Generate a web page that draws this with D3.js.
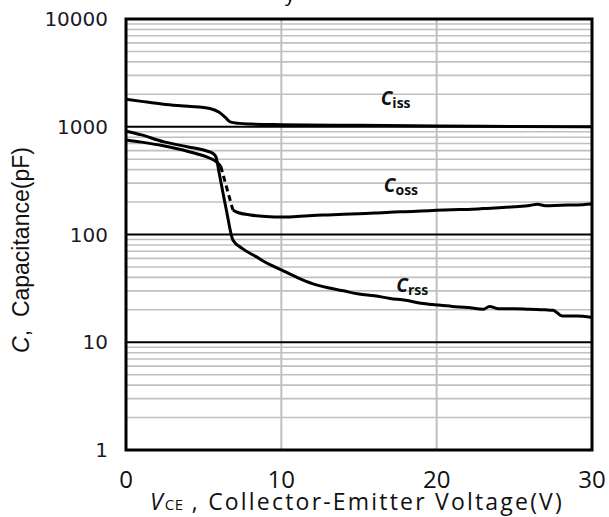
<!DOCTYPE html>
<html>
<head>
<meta charset="utf-8">
<script src="https://cdn.jsdelivr.net/npm/d3@7"></script>
<style>
  body { margin: 0; background: #fff; }
  svg { display: block; }
</style>
</head>
<body>
<div id="chart"></div>
<script>
// axis ticks
const xTicks = [0, 10, 20, 30];
const yTicks = [1, 10, 100, 1000, 10000];

// Ciss
const cissV = [0, 1, 2.4, 4, 5.4, 6.0, 6.4, 6.7, 7.3, 8, 10, 15, 20, 25, 30];
const cissC = [1800, 1720, 1620, 1550, 1480, 1360, 1220, 1110, 1075, 1060, 1045, 1030, 1015, 1005, 1000];

// Coss: low-voltage part, dashed drop, high-voltage part
const cossLowV = [0, 1, 2.4, 4, 5.4, 5.8, 6.1];
const cossLowC = [755, 720, 665, 590, 510, 475, 430];
const cossDropV = [6.1, 6.88];
const cossDropC = [430, 169];
const cossHighV = [6.88, 7.2, 8, 9, 10, 11, 12, 13, 14, 15, 16, 17, 18, 19, 20, 21, 22, 23, 24, 25, 26, 26.5, 27, 28, 29, 30];
const cossHighC = [169, 160, 152, 147, 145, 147, 150, 152, 154, 156, 158, 161, 163, 165, 168, 170, 171, 174, 177, 181, 186, 191, 185, 187, 188, 192];

// Crss
const crssV = [0, 1, 2.4, 4, 5.2, 5.6, 5.8, 6.0, 6.46, 6.88, 7.5, 8.4, 9, 10, 11, 12, 13, 14, 15, 16, 17, 18, 19, 20, 21, 22, 23, 23.4, 24, 25, 26, 27, 27.5, 28.1, 29, 30];
const crssC = [910, 840, 727, 650, 596, 565, 520, 370, 169, 89, 74, 62, 55, 47, 40, 35, 32, 30, 28, 27, 25.5, 24.5, 23, 22.2, 21.5, 21, 20.2, 21.5, 20.5, 20.5, 20.2, 20, 19.8, 17.5, 17.5, 17];

const svgWidth = 609, svgHeight = 517;
const margin = { top: 19, right: 17, bottom: 67, left: 126 };
const width = svgWidth - margin.left - margin.right;
const height = svgHeight - margin.top - margin.bottom;

const svg = d3.select('#chart').append('svg')
  .attr('width', svgWidth)
  .attr('height', svgHeight);

const g = svg.append('g')
  .attr('transform', `translate(${margin.left},${margin.top})`);

const x = d3.scaleLinear().domain([0, 30]).range([0, width]);
const y = d3.scaleLog().domain([1, 10000]).range([height, 0]);

// minor horizontal grid (2..9 in each decade)
const minor = [];
for (let d = 1; d < 10000; d *= 10) {
  for (let k = 2; k <= 9; k++) minor.push(d * k);
}
g.selectAll('.minor').data(minor).enter().append('line')
  .attr('x1', 0).attr('x2', width)
  .attr('y1', d => y(d)).attr('y2', d => y(d))
  .attr('stroke', '#c0c0c0').attr('stroke-width', 1.6);

// vertical grid
g.selectAll('.vgrid').data(xTicks.slice(1, -1)).enter().append('line')
  .attr('x1', d => x(d)).attr('x2', d => x(d))
  .attr('y1', 0).attr('y2', height)
  .attr('stroke', '#c0c0c0').attr('stroke-width', 2);

// decade lines
g.selectAll('.major').data(yTicks.slice(1, -1)).enter().append('line')
  .attr('x1', 0).attr('x2', width)
  .attr('y1', d => y(d)).attr('y2', d => y(d))
  .attr('stroke', '#000').attr('stroke-width', 2);

const line = d3.line()
  .x(d => x(d[0]))
  .y(d => y(d[1]))
  .curve(d3.curveMonotoneX);

function zip(a, b) { return a.map((v, i) => [v, b[i]]); }

const curves = [
  { data: zip(cissV, cissC), dash: null },
  { data: zip(cossLowV, cossLowC), dash: null },
  { data: zip(cossDropV, cossDropC), dash: '6,4' },
  { data: zip(cossHighV, cossHighC), dash: null },
  { data: zip(crssV, crssC), dash: null }
];

curves.forEach(c => {
  g.append('path')
    .datum(c.data)
    .attr('fill', 'none')
    .attr('stroke', '#000')
    .attr('stroke-width', 3)
    .attr('stroke-linejoin', 'round')
    .attr('stroke-dasharray', c.dash)
    .attr('d', line);
});

// frame
g.append('rect')
  .attr('width', width).attr('height', height)
  .attr('fill', 'none').attr('stroke', '#000').attr('stroke-width', 3);

// y axis tick labels
g.selectAll('.ylab').data(yTicks).enter().append('text')
  .attr('x', -18)
  .attr('y', d => y(d))
  .attr('dy', '0.36em')
  .attr('text-anchor', 'end')
  .attr('font-family', 'DejaVu Sans, Verdana, sans-serif')
  .attr('font-size', 20)
  .attr('fill', '#1a1a2a')
  .text(d => d);

// x axis tick labels
g.selectAll('.xlab').data(xTicks).enter().append('text')
  .attr('x', d => x(d))
  .attr('y', height + 38)
  .attr('text-anchor', 'middle')
  .attr('font-family', 'Open Sans, sans-serif')
  .attr('font-size', 24)
  .attr('fill', '#111')
  .text(d => d);

// x title
const xt = svg.append('text')
  .attr('x', 357)
  .attr('y', 510)
  .attr('text-anchor', 'middle')
  .attr('font-family', 'Open Sans, sans-serif')
  .attr('font-size', 23)
  .attr('letter-spacing', 2.2)
  .attr('fill', '#111');
xt.append('tspan').attr('font-style', 'italic').text('V');
xt.append('tspan').attr('font-size', 15).attr('letter-spacing', 0.5).text('CE');
xt.append('tspan').text(' , Collector-Emitter Voltage(V)');

// y title
const yt = svg.append('text')
  .attr('transform', 'translate(29,250) rotate(-90)')
  .attr('text-anchor', 'middle')
  .attr('font-family', 'Liberation Sans, Arial, sans-serif')
  .attr('font-size', 23)
  .attr('fill', '#111');
yt.append('tspan').attr('font-style', 'italic').text('C');
yt.append('tspan').text(',\u00a0\u00a0Capacitance(pF)');

// cut-off title remnant at top
svg.append('text')
  .attr('x', 290).attr('y', 1)
  .attr('text-anchor', 'middle')
  .attr('font-family', 'Open Sans, sans-serif')
  .attr('font-size', 20)
  .attr('fill', '#000')
  .text('y');

// series labels
const seriesLabels = [
  { main: 'C', sub: 'iss', v: 16.4, c: 1590 },
  { main: 'C', sub: 'oss', v: 16.6, c: 246 },
  { main: 'C', sub: 'rss', v: 17.4, c: 29.5 }
];
seriesLabels.forEach(s => {
  const t = g.append('text')
    .attr('x', x(s.v))
    .attr('y', y(s.c))
    .attr('font-family', 'Open Sans, sans-serif')
    .attr('font-weight', 'bold')
    .attr('fill', '#111');
  t.append('tspan').attr('font-style', 'italic').attr('font-size', 19).text(s.main);
  t.append('tspan').attr('font-size', 14).attr('dy', 3).text(s.sub);
});
</script>
</body>
</html>
